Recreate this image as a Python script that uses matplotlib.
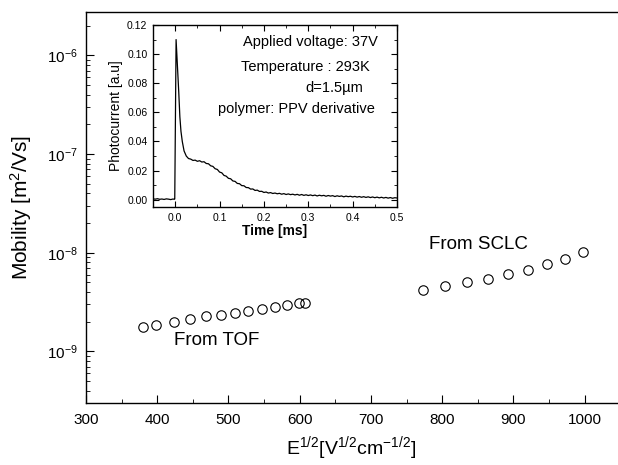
import matplotlib
matplotlib.use("Agg")
import matplotlib.pyplot as plt
from matplotlib.ticker import MultipleLocator, LogLocator, NullFormatter, FixedLocator

plt.rcParams["font.family"] = ["Liberation Sans", "DejaVu Sans"]
plt.rcParams["mathtext.fontset"] = "custom"
plt.rcParams["mathtext.rm"] = "Liberation Sans"
plt.rcParams["mathtext.it"] = "Liberation Sans:italic"
plt.rcParams["mathtext.bf"] = "Liberation Sans:bold"

# --- mobilidade vs E^1/2 ---
tof_x = [380, 399, 423, 446, 468, 489, 509, 528, 547, 565, 582, 599, 607]
tof_mu = [1.76e-9, 1.85e-9, 1.98e-9, 2.11e-9, 2.28e-9, 2.35e-9, 2.44e-9,
          2.54e-9, 2.67e-9, 2.83e-9, 2.95e-9, 3.07e-9, 3.1e-9]
sclc_x = [773, 804, 835, 864, 892, 920, 947, 973, 998]
sclc_mu = [4.22e-9, 4.6e-9, 5.06e-9, 5.47e-9, 6.06e-9, 6.66e-9, 7.6e-9,
           8.55e-9, 1.02e-8]
y_major = [1e-9, 1e-8, 1e-7, 1e-6]

# --- transiente de fotocorrente (inset) ---
t_ms = [-0.050, -0.045, -0.040, -0.035, -0.030, -0.025, -0.020, -0.015, -0.010,
        -0.005, -0.002, -0.001, 0.002, 0.005, 0.008, 0.0105, 0.013, 0.016,
        0.020, 0.025, 0.030,
        0.035, 0.040, 0.045, 0.050, 0.055, 0.060, 0.065, 0.070, 0.075, 0.080,
        0.085, 0.090, 0.095, 0.100, 0.105, 0.110, 0.115, 0.120, 0.125, 0.130,
        0.135, 0.140, 0.145, 0.150, 0.155, 0.160, 0.165, 0.170, 0.175, 0.180,
        0.185, 0.190, 0.195, 0.200, 0.205, 0.210, 0.215, 0.220, 0.225, 0.230,
        0.235, 0.240, 0.245, 0.250, 0.255, 0.260, 0.265, 0.270, 0.275, 0.280,
        0.285, 0.290, 0.295, 0.300, 0.305, 0.310, 0.315, 0.320, 0.325, 0.330,
        0.335, 0.340, 0.345, 0.350, 0.355, 0.360, 0.365, 0.370, 0.375, 0.380,
        0.385, 0.390, 0.395, 0.400, 0.405, 0.410, 0.415, 0.420, 0.425, 0.430,
        0.435, 0.440, 0.445, 0.450, 0.455, 0.460, 0.465, 0.470, 0.475, 0.480,
        0.485, 0.490, 0.495, 0.500]
photo = [0.0006, 0.0004, 0.0007, 0.0003, 0.0005, 0.0002, 0.0006, 0.0004, 0.0001,
         0.0005, 0.0003, 0.0005, 0.1100, 0.0920, 0.0740, 0.0570, 0.0470, 0.0400,
         0.0335, 0.0300, 0.0283,
         0.0279, 0.0270, 0.0272, 0.0264, 0.0268, 0.0259, 0.0261, 0.0249, 0.0247, 0.0233,
         0.0229, 0.0213, 0.0208, 0.0190, 0.0185, 0.0167, 0.0162, 0.0147, 0.0144, 0.0129,
         0.0126, 0.0112, 0.0110, 0.0097, 0.0096, 0.0084, 0.0083, 0.0073, 0.0074, 0.0064,
         0.0066, 0.0057, 0.0058, 0.0050, 0.0053, 0.0046, 0.0049, 0.0043, 0.0046, 0.0041,
         0.0044, 0.0038, 0.0042, 0.0036, 0.0040, 0.0035, 0.0038, 0.0033, 0.0037, 0.0031,
         0.0036, 0.0030, 0.0034, 0.0029, 0.0033, 0.0028, 0.0032, 0.0026, 0.0031, 0.0027,
         0.0030, 0.0024, 0.0029, 0.0025, 0.0028, 0.0022, 0.0027, 0.0023, 0.0026, 0.0020,
         0.0025, 0.0021, 0.0024, 0.0019, 0.0023, 0.0018, 0.0022, 0.0017, 0.0021, 0.0016,
         0.0020, 0.0015, 0.0019, 0.0014, 0.0018, 0.0013, 0.0017, 0.0012, 0.0016, 0.0011,
         0.0015, 0.0010, 0.0014, 0.0012]

fig = plt.figure(figsize=(6.18, 4.65), dpi=100)
ax = fig.add_axes([0.139, 0.1333, 0.859, 0.841])

ax.plot(tof_x, tof_mu, "o", mfc="none", mec="black", ms=6.8, mew=0.8)
ax.plot(sclc_x, sclc_mu, "o", mfc="none", mec="black", ms=6.8, mew=0.8)
ax.set_yscale("log")
ax.set_xlim(300, 1045)
ax.set_ylim(3e-10, 2.75e-6)
ax.xaxis.set_major_locator(MultipleLocator(100))
ax.xaxis.set_minor_locator(MultipleLocator(50))
ax.yaxis.set_major_locator(FixedLocator(y_major))
ax.yaxis.set_minor_locator(LogLocator(base=10, subs=range(2, 10), numticks=10))
ax.yaxis.set_minor_formatter(NullFormatter())
ax.spines["right"].set_visible(False)
for s in ax.spines.values():
    s.set_linewidth(1.0)
ax.tick_params(which="both", direction="in", top=False, right=False, labelsize=11)
ax.tick_params(axis="x", which="major", length=6, pad=7)
ax.tick_params(axis="x", which="minor", length=3)
ax.tick_params(axis="y", which="major", length=6, pad=6)
ax.tick_params(axis="y", which="minor", length=3)
ax.set_xlabel(r"E$^{1/2}$[V$^{1/2}$cm$^{-1/2}$]", fontsize=14, labelpad=5)
ax.set_ylabel(r"Mobility [m$^2$/Vs]", fontsize=15, labelpad=9)

ax.text(423, 1.29e-9, "From TOF", fontsize=13.5, va="center", ha="left")
ax.text(782, 1.21e-8, "From SCLC", fontsize=13.5, va="center", ha="left")

# --- inset ---
axi = fig.add_axes([0.2476, 0.5548, 0.3948, 0.3914])
axi.plot(t_ms, photo, "-", color="black", lw=0.9)
axi.set_xlim(-0.05, 0.5)
axi.set_ylim(-0.005, 0.12)
axi.xaxis.set_major_locator(MultipleLocator(0.1))
axi.xaxis.set_minor_locator(MultipleLocator(0.05))
axi.yaxis.set_major_locator(MultipleLocator(0.02))
axi.yaxis.set_minor_locator(MultipleLocator(0.01))
axi.xaxis.set_major_formatter(plt.FuncFormatter(lambda v, p: f"{v:.1f}"))
axi.yaxis.set_major_formatter(plt.FuncFormatter(lambda v, p: f"{v:.2f}"))
for s in axi.spines.values():
    s.set_linewidth(1.0)
axi.tick_params(which="both", direction="in", top=True, right=True, labelsize=7.5, pad=4)
axi.tick_params(which="major", length=4)
axi.tick_params(which="minor", length=2)
axi.set_xlabel("Time [ms]", fontsize=10, fontweight="bold", labelpad=1)
axi.set_ylabel("Photocurrent [a.u]", fontsize=10, labelpad=3)

axi.text(0.369, 0.908, "Applied voltage: 37V", transform=axi.transAxes, fontsize=10.5, va="center")
axi.text(0.361, 0.771, "Temperature : 293K", transform=axi.transAxes, fontsize=10.5, va="center")
axi.text(0.623, 0.652, "d=1.5\u00b5m", transform=axi.transAxes, fontsize=10.5, va="center")
axi.text(0.266, 0.537, "polymer: PPV derivative", transform=axi.transAxes, fontsize=10.5, va="center")

fig.savefig("out.png", dpi=100)
